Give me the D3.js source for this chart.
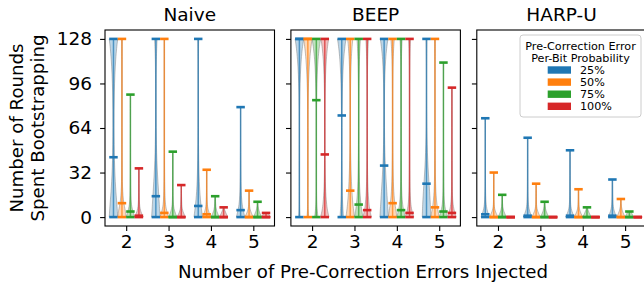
<!DOCTYPE html>
<html><head><meta charset="utf-8">
<script src="https://cdn.jsdelivr.net/npm/d3@7"></script>
<style>html,body{margin:0;padding:0;background:#fff;}svg{display:block;font-family:"DejaVu Sans",sans-serif;}</style>
</head><body><svg id="c" width="644" height="285"></svg>
<script>
const panelTitles = ["Naive", "BEEP", "HARP-U"];
const errorCounts = [2, 3, 4, 5];
const probLabels = ["25%", "50%", "75%", "100%"];
const probColors = ["#1f77b4", "#ff7f0e", "#2ca02c", "#d62728"];
const yTicks = [0, 32, 64, 96, 128];
const densityLevels = [0, 5, 10, 20, 40, 64, 90, 115, 128];

// [errorCount][probability]
const naiveMin = [[0,0,0,0],[0,0,0,0],[0,0,0,0],[0,0,0,0]];
const naiveMax = [[128,128,88,35],[128,128,47,23],[128,34,15,7],[79,19,11,3]];
const naiveMedian = [[43,10,4,1],[15,3,0,0],[8,2,0,0],[5,0,0,0]];
const naiveDensity = [
  [[1,0.9,0.8,0.5,0.2,0.1,0.15,0.5,1],[1,0.8,0.4,0.1,0.03,0.02,0.02,0.02,0.05],[1,0.5,0.15,0.04,0.02,0.01,0.01],[1,0.3,0.1,0.05,0.02]],
  [[1,0.9,0.8,0.6,0.2,0.06,0.05,0.1,0.3],[1,0.5,0.2,0.08,0.03,0.02,0.02,0.02,0.04],[1,0.3,0.1,0.03,0.01,0.01],[1,0.2,0.1,0.03,0.01]],
  [[1,0.8,0.6,0.3,0.1,0.05,0.04,0.05,0.1],[1,0.3,0.1,0.03,0.01],[1,0.2,0.1,0.02],[1,0.2,0.05]],
  [[1,0.6,0.3,0.1,0.03,0.02,0.02],[1,0.2,0.05,0.02],[1,0.2,0.05,0.02],[1,0.2]]
];
const beepMin = [[0,0,0,0],[0,0,0,0],[0,0,0,0],[0,0,0,0]];
const beepMax = [[128,128,128,128],[128,128,128,128],[128,128,128,128],[128,128,111,93]];
const beepMedian = [[128,128,84,45],[73,19,9,5],[37,10,5,3],[24,7,4,3]];
const beepDensity = [
  [[0.15,0.05,0.03,0.02,0.02,0.02,0.05,0.4,1],[0.2,0.08,0.04,0.02,0.02,0.02,0.05,0.4,1],[0.4,0.2,0.08,0.03,0.02,0.02,0.05,0.35,1],[1,0.6,0.4,0.15,0.05,0.03,0.05,0.3,0.9]],
  [[0.4,0.3,0.2,0.1,0.05,0.05,0.08,0.4,1],[1,0.8,0.6,0.35,0.1,0.04,0.04,0.2,0.6],[1,0.7,0.5,0.2,0.06,0.03,0.03,0.15,0.4],[1,0.6,0.4,0.15,0.05,0.02,0.02,0.1,0.3]],
  [[1,0.9,0.8,0.6,0.2,0.06,0.05,0.3,0.9],[1,0.8,0.5,0.2,0.06,0.03,0.03,0.1,0.4],[1,0.6,0.3,0.1,0.04,0.02,0.02,0.06,0.25],[1,0.5,0.25,0.08,0.03,0.02,0.02,0.05,0.2]],
  [[1,0.95,0.9,0.7,0.25,0.05,0.03,0.04,0.1],[1,0.7,0.4,0.15,0.04,0.02,0.02,0.03,0.1],[1,0.5,0.2,0.06,0.02,0.01,0.01,0.02],[1,0.5,0.2,0.05,0.02,0.01,0.01]]
];
const harpMin = [[0,0,0,0],[0,0,0,0],[0,0,0,0],[0,0,0,0]];
const harpMax = [[71,32,16,0],[57,24,11,0],[48,20,7,0],[27,13,4,0]];
const harpMedian = [[2,0,0,0],[1,0,0,0],[1,0,0,0],[1,0,0,0]];
const harpDensity = [
  [[1,0.4,0.15,0.05,0.02,0.01,0.01],[1,0.2,0.05,0.02,0.01],[1,0.2,0.05,0.02],[1]],
  [[1,0.35,0.12,0.04,0.02,0.01],[1,0.2,0.05,0.02,0.01],[1,0.2,0.05,0.02],[1]],
  [[1,0.3,0.1,0.04,0.02,0.01],[1,0.2,0.05,0.02],[1,0.2,0.05],[1]],
  [[1,0.3,0.1,0.04,0.02],[1,0.2,0.05,0.02],[1,0.2,0.05],[1]]
];

const panelData = [
  {min: naiveMin, max: naiveMax, median: naiveMedian, density: naiveDensity},
  {min: beepMin, max: beepMax, median: beepMedian, density: beepDensity},
  {min: harpMin, max: harpMax, median: harpMedian, density: harpDensity}
];

const svg = d3.select("#c");
const plotTop = 30, plotBottom = 226, left0 = 105, panelW = 169.5, gap = 16.4;
const y = d3.scaleLinear().domain([-6.4, 134.4]).range([plotBottom, plotTop]);
const offsets = [-0.3, -0.1, 0.1, 0.3];
const halfW = 0.1;
const fontSize = 18.5;
const labelSize = 18.2;

panelData.forEach((pd, pi) => {
  const x0 = left0 + pi * (panelW + gap);
  const x = d3.scaleLinear().domain([1.5, 5.5]).range([x0, x0 + panelW]);
  const g = svg.append("g");
  const pxHalf = x(1.5 + halfW) - x(1.5);

  errorCounts.forEach((ec, gi) => {
    probLabels.forEach((pl, ci) => {
      const cx = x(ec + offsets[ci]);
      const lo = pd.min[gi][ci], hi = pd.max[gi][ci], med = pd.median[gi][ci];
      const dens = pd.density[gi][ci];
      const col = probColors[ci];
      const w = i => (i < dens.length ? dens[i] : 0);
      if (hi > lo) {
        const pts = [];
        densityLevels.forEach((lv, i) => { if (lv >= lo && lv < hi) pts.push([lv, w(i)]); });
        let k = densityLevels.findIndex(lv => lv >= hi);
        let wHi;
        if (k <= 0) wHi = w(densityLevels.length - 1);
        else {
          const t = (hi - densityLevels[k - 1]) / (densityLevels[k] - densityLevels[k - 1]);
          wHi = w(k - 1) * (1 - t) + w(k) * t;
        }
        pts.push([hi, wHi]);
        const area = d3.area()
          .y(d => y(d[0]))
          .x0(d => cx - pxHalf * d[1])
          .x1(d => cx + pxHalf * d[1])
          .curve(d3.curveBasis);
        g.append("path").attr("d", area(pts))
          .attr("fill", col).attr("fill-opacity", 0.3)
          .attr("stroke", "#777").attr("stroke-opacity", 0.45).attr("stroke-width", 1);
        g.append("line").attr("x1", cx).attr("x2", cx).attr("y1", y(lo)).attr("y2", y(hi))
          .attr("stroke", col).attr("stroke-width", 1.5).attr("stroke-opacity", 0.7);
      }
      [lo, hi, med].forEach(v => {
        g.append("line").attr("x1", cx - pxHalf).attr("x2", cx + pxHalf)
          .attr("y1", y(v)).attr("y2", y(v))
          .attr("stroke", col).attr("stroke-width", 2.6);
      });
    });
  });

  // frame
  g.append("rect").attr("x", x0).attr("y", plotTop).attr("width", panelW).attr("height", plotBottom - plotTop)
    .attr("fill", "none").attr("stroke", "#000").attr("stroke-width", 1.1);

  // x axis
  const xa = g.append("g").attr("transform", `translate(0,${plotBottom})`)
    .call(d3.axisBottom(x).tickValues(errorCounts).tickSize(4.9).tickPadding(4).tickFormat(d3.format("d")));
  xa.select(".domain").remove();
  xa.selectAll("line").attr("stroke-width", 1.1);
  xa.selectAll("text").attr("font-size", fontSize).attr("font-family", "DejaVu Sans").attr("fill", "#000");

  // y axis ticks
  const ya = g.append("g").attr("transform", `translate(${x0},0)`)
    .call(d3.axisLeft(y).tickValues(yTicks).tickSize(4.9).tickPadding(8).tickFormat(pi === 0 ? d3.format("d") : () => ""));
  ya.select(".domain").remove();
  ya.selectAll("line").attr("stroke-width", 1.1);
  ya.selectAll("text").attr("font-size", fontSize).attr("font-family", "DejaVu Sans").attr("fill", "#000");

  g.append("text").attr("x", x0 + panelW / 2).attr("y", 21).attr("text-anchor", "middle")
    .attr("font-size", fontSize).text(panelTitles[pi]);
});

// axis labels
svg.append("text").attr("x", 363).attr("y", 278).attr("text-anchor", "middle")
  .attr("font-size", labelSize).text("Number of Pre-Correction Errors Injected");
const yl = svg.append("text").attr("transform", "translate(23,128) rotate(-90)")
  .attr("text-anchor", "middle").attr("font-size", labelSize);
yl.append("tspan").attr("x", 0).attr("y", 0).text("Number of Rounds");
yl.append("tspan").attr("x", 0).attr("y", 21).text("Spent Bootstrapping");

// legend
const lg = svg.append("g");
lg.append("rect").attr("x", 520).attr("y", 35).attr("width", 121).attr("height", 82).attr("rx", 3)
  .attr("fill", "#fff").attr("fill-opacity", 0.8).attr("stroke", "#ccc").attr("stroke-width", 1);
lg.append("text").attr("x", 580.5).attr("y", 49.7).attr("text-anchor", "middle").attr("font-size", 11.2).text("Pre-Correction Error");
lg.append("text").attr("x", 580.5).attr("y", 62.3).attr("text-anchor", "middle").attr("font-size", 11.2).text("Per-Bit Probability");
probLabels.forEach((pl, i) => {
  const cy = 70 + i * 12.1;
  lg.append("rect").attr("x", 547.7).attr("y", cy - 3.7).attr("width", 23.3).attr("height", 7.4).attr("fill", probColors[i]);
  lg.append("text").attr("x", 580).attr("y", cy + 4).attr("font-size", 11.2).text(pl);
});
</script>
</body></html>
